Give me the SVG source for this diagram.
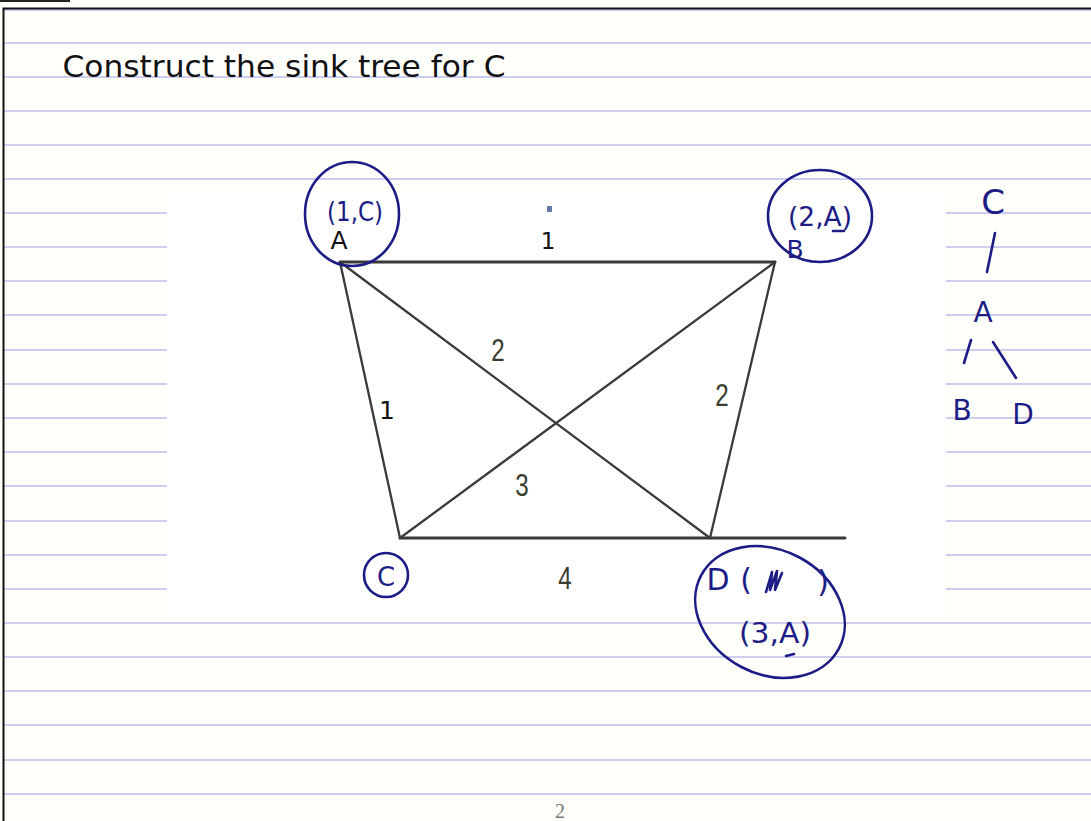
<svg xmlns="http://www.w3.org/2000/svg" width="1091" height="821" viewBox="0 0 1091 821">
<style>
.rule{stroke:#cdcdf0;stroke-width:2}
.edge{stroke:#3a3a3a;stroke-width:3;stroke-linecap:round}
.thin{stroke:#3a3a3a;stroke-width:2.3;stroke-linecap:round}
.wt{font-family:"Liberation Sans",Arial,sans-serif;font-size:31px;fill:#3b3b30;text-anchor:middle}
.ink{fill:none;stroke:#1c1c86;stroke-width:2.6;stroke-linecap:round;stroke-linejoin:round}
.blue{font-family:"DejaVu Sans",sans-serif;fill:#1c1c86;text-anchor:middle}
.hand{font-family:"DejaVu Sans",sans-serif;fill:#111;text-anchor:middle}
</style>
<rect width="1091" height="821" fill="#fffffb"/>
<rect x="0" y="0" width="70" height="2" fill="#222"/>
<g id="ruling">
<line class="rule" x1="4" y1="10" x2="1091" y2="10"/>
<line class="rule" x1="4" y1="43" x2="1091" y2="43"/>
<line class="rule" x1="4" y1="77" x2="1091" y2="77"/>
<line class="rule" x1="4" y1="111" x2="1091" y2="111"/>
<line class="rule" x1="4" y1="145" x2="1091" y2="145"/>
<line class="rule" x1="4" y1="179" x2="1091" y2="179"/>
<line class="rule" x1="4" y1="213" x2="1091" y2="213"/>
<line class="rule" x1="4" y1="247" x2="1091" y2="247"/>
<line class="rule" x1="4" y1="281" x2="1091" y2="281"/>
<line class="rule" x1="4" y1="315" x2="1091" y2="315"/>
<line class="rule" x1="4" y1="350" x2="1091" y2="350"/>
<line class="rule" x1="4" y1="384" x2="1091" y2="384"/>
<line class="rule" x1="4" y1="418" x2="1091" y2="418"/>
<line class="rule" x1="4" y1="452" x2="1091" y2="452"/>
<line class="rule" x1="4" y1="486" x2="1091" y2="486"/>
<line class="rule" x1="4" y1="521" x2="1091" y2="521"/>
<line class="rule" x1="4" y1="555" x2="1091" y2="555"/>
<line class="rule" x1="4" y1="589" x2="1091" y2="589"/>
<line class="rule" x1="4" y1="623" x2="1091" y2="623"/>
<line class="rule" x1="4" y1="657" x2="1091" y2="657"/>
<line class="rule" x1="4" y1="691" x2="1091" y2="691"/>
<line class="rule" x1="4" y1="725" x2="1091" y2="725"/>
<line class="rule" x1="4" y1="760" x2="1091" y2="760"/>
<line class="rule" x1="4" y1="794" x2="1091" y2="794"/>
</g>
<rect x="167" y="195" width="779" height="420" fill="#ffffff"/>
<path d="M3.5 821 V8.5 H1091" fill="none" stroke="#111" stroke-width="2"/>
<text x="284" y="77" font-family="DejaVu Sans,sans-serif" font-size="31" fill="#111" text-anchor="middle" textLength="443" lengthAdjust="spacingAndGlyphs">Construct the sink tree for C</text>
<g id="connectors">
<line class="edge" x1="340" y1="262" x2="775" y2="262"/>
<line class="edge" x1="400" y1="538" x2="845" y2="538"/>
<line class="thin" x1="340" y1="262" x2="400" y2="538"/>
<line class="thin" x1="775" y1="262" x2="710" y2="538"/>
<line class="thin" x1="340" y1="262" x2="710" y2="538"/>
<line class="thin" x1="400" y1="538" x2="775" y2="262"/>
<text class="hand" x="548" y="249" font-size="23">1</text>
<rect x="547" y="206" width="5" height="6" fill="#6677aa"/>
<text class="wt" transform="translate(498 361) scale(0.78 1)">2</text>
<text class="hand" x="387" y="419" font-size="25">1</text>
<text class="wt" transform="translate(722 406) scale(0.78 1)">2</text>
<text class="wt" transform="translate(522 496) scale(0.78 1)">3</text>
<text class="wt" transform="translate(565 589) scale(0.78 1)">4</text>
</g>
<g id="node-A">
<ellipse class="ink" cx="352" cy="214" rx="47" ry="52"/>
<text class="blue" x="355" y="221" font-size="27" textLength="56" lengthAdjust="spacingAndGlyphs">(1,C)</text>
<text class="hand" x="339" y="249" font-size="25">A</text>
</g>
<g id="node-B">
<ellipse class="ink" cx="820" cy="216" rx="52" ry="46"/>
<text class="blue" x="820" y="226" font-size="26" textLength="64" lengthAdjust="spacingAndGlyphs">(2,A)</text>
<line class="ink" x1="833" y1="231" x2="844" y2="231"/>
<text class="blue" x="795" y="258" font-size="25">B</text>
</g>
<g id="node-C">
<circle class="ink" cx="386" cy="575" r="22"/>
<text class="blue" x="386" y="586" font-size="26">C</text>
</g>
<g id="node-D">
<ellipse class="ink" cx="770" cy="612" rx="78" ry="62" transform="rotate(28 770 612)"/>
<text class="blue" x="718" y="590" font-size="30">D</text>
<text class="blue" x="746" y="590" font-size="30">(</text>
<path class="ink" d="M766 592 L772 572 L770 590 L777 571 L775 590 L782 573" stroke-width="2.2"/>
<text class="blue" x="823" y="592" font-size="30">)</text>
<text class="blue" x="775" y="643" font-size="28" textLength="72" lengthAdjust="spacingAndGlyphs">(3,A)</text>
<line class="ink" x1="786" y1="656" x2="794" y2="654" stroke-width="2"/>
</g>
<g id="tree">
<text class="blue" x="993" y="214" font-size="34">C</text>
<line class="ink" x1="995" y1="233" x2="987" y2="272"/>
<text class="blue" x="983" y="322" font-size="28">A</text>
<line class="ink" x1="971" y1="340" x2="964" y2="363"/>
<line class="ink" x1="993" y1="342" x2="1016" y2="378"/>
<text class="blue" x="962" y="420" font-size="28">B</text>
<text class="blue" x="1023" y="424" font-size="28">D</text>
</g>
<text x="560" y="818" font-family="Liberation Serif,serif" font-size="20" fill="#777" text-anchor="middle">2</text>
</svg>
